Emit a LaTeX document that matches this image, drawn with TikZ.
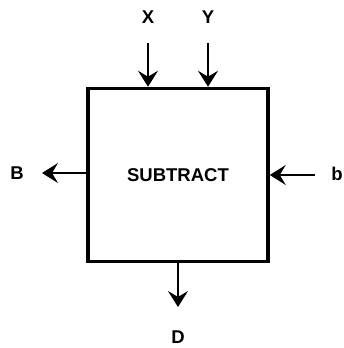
\documentclass[tikz,border=0pt]{standalone}
\usepackage{fontspec}
\setmainfont{Liberation Sans}
\usetikzlibrary{arrows.meta}
\begin{document}
\begin{tikzpicture}[x=1pt,y=1pt,
  lbl/.style={font=\fontsize{18.5}{20}\selectfont\bfseries, inner sep=0pt},
  blk/.style={draw, line width=3.5pt, minimum width=180pt, minimum height=173pt, inner sep=0pt, font=\fontsize{18.5}{20}\selectfont\bfseries},
  sig/.style={line width=2pt, -{Stealth[length=16pt,width=20pt,inset=6pt]}}]
\useasboundingbox (0,0) rectangle (343,348);
\node[blk] (box) at (178,173) {SUBTRACT};
\node[lbl] (X) at (148,331) {X};
\node[lbl] (Y) at (208,331) {Y};
\node[lbl] (B) at (17,175) {B};
\node[lbl] (b) at (337,174) {b};
\node[lbl] (D) at (178,11) {D};
\coordinate (xs) at (148,305);
\coordinate (ys) at (208,305);
\coordinate (bs) at (315,173);
\coordinate (be) at (42,175);
\coordinate (de) at (178,41);
\draw[sig] (xs) -- (xs |- box.north);
\draw[sig] (ys) -- (ys |- box.north);
\draw[sig] (bs) -- (bs -| box.east);
\draw[sig] (be -| box.west) -- (be);
\draw[sig] (de |- box.south) -- (de);
\end{tikzpicture}
\end{document}
